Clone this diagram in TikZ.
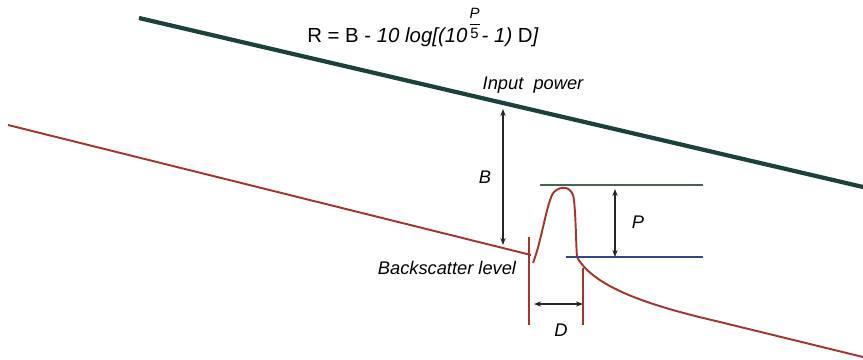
\documentclass[tikz,border=0pt]{standalone}
\usepackage{amsmath}
\usepackage{fontspec}
\setmainfont{Liberation Sans}
\usetikzlibrary{arrows.meta}
\definecolor{powercol}{RGB}{28,64,58}
\definecolor{tracecol}{RGB}{165,52,45}
\definecolor{peakcol}{RGB}{70,100,80}
\definecolor{basecol}{RGB}{50,70,140}
\tikzset{
  lbl/.style={font=\fontsize{10.4}{12}\selectfont\itshape, inner sep=0pt},
  dim/.style={draw=black!85, line width=0.8pt, {Stealth[length=4pt,width=3pt]}-{Stealth[length=4pt,width=3pt]}},
  trace/.style={draw=tracecol, line width=1.1pt}
}
\begin{document}
\begin{tikzpicture}[x=0.02cm,y=-0.02cm]
  \useasboundingbox (0,0) rectangle (863,359);
  % input power
  \draw[powercol, line width=2.4pt] (139,18)--(863,187);
  \node[lbl] (inp) at (533,85) {Input\ \ power};
  \node[lbl, font=\fontsize{11.6}{13}\selectfont, anchor=base] (form) at (423,42)
    {R = B - \textit{10 log[(10}\raisebox{1.3ex}{\fontsize{8.5}{8.5}\selectfont$\genfrac{}{}{0.5pt}{0}{\text{\itshape P}}{\text{5}}$}\textit{- 1)} D\textit{]}};
  % backscatter trace with event
  \draw[trace] (8,125)--(531,255);
  \draw[trace] (533,263) .. controls (542,240) and (547,200) .. (554,192)
    .. controls (561,185) and (573,186) .. (574,200)
    .. controls (576,220) and (576,245) .. (577,257)
    .. controls (595,290) and (660,308) .. (720,322) -- (863,357);
  \draw[tracecol, line width=1pt] (529,237)--(529,325);
  \draw[tracecol, line width=1pt] (583,268)--(583,325);
  % peak and base levels
  \draw[peakcol, line width=1.5pt] (540,185)--(703,185);
  \draw[basecol, line width=1.5pt] (566,257)--(703,257);
  % dimensions
  \coordinate (btop) at (503,109);
  \coordinate (bbot) at (503,245);
  \draw[dim] (btop)--(bbot);
  \node[lbl] (blab) at (485,177) {B};
  \coordinate (ptop) at (615,189);
  \coordinate (pbot) at (615,257);
  \draw[dim] (ptop)--(pbot);
  \node[lbl] (plab) at (638,222) {P};
  \coordinate (dlft) at (534,304);
  \coordinate (drgt) at (583,304);
  \draw[dim] (dlft)--(drgt);
  \node[lbl] (dlab) at (561,330) {D};
  \node[lbl] (bsl) at (447,268) {Backscatter level};
\end{tikzpicture}
\end{document}
